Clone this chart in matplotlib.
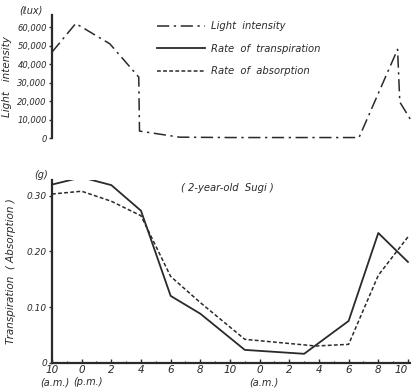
import matplotlib
matplotlib.use("Agg")
import matplotlib.pyplot as plt
from matplotlib.lines import Line2D

# hours after 10 a.m.
light_hours = [0, 1.6, 3.9, 5.85, 5.9, 8.6, 12, 16, 20.7, 23.3, 23.45, 24.2]
light_lux = [46500, 62000, 51000, 33000, 3800, 500, 300, 300, 300, 48000, 19500, 9700]

trans_hours = [0, 2, 4, 6, 8, 10, 13, 17, 20, 22, 24]
transpiration = [0.32, 0.333, 0.319, 0.273, 0.12, 0.088, 0.023, 0.016, 0.075, 0.233, 0.181]

abs_hours = [0, 2, 4, 6, 8, 10, 13, 17.8, 20, 22, 24]
absorption = [0.303, 0.308, 0.29, 0.264, 0.155, 0.108, 0.042, 0.03, 0.033, 0.157, 0.226]

tick_hours = list(range(0, 25, 2))
tick_labels = ["10", "0", "2", "4", "6", "8", "10", "0", "2", "4", "6", "8", "10"]

light_ticks = [0, 10000, 20000, 30000, 40000, 50000, 60000]
light_tick_labels = ["0", "10,000", "20,000", "30,000", "40,000", "50,000", "60,000"]
trans_ticks = [0, 0.10, 0.20, 0.30]
trans_tick_labels = ["0", "0.10", "0.20", "0.30"]

ink = "#2a2a2a"
dashdot = (0, (8, 3, 1.5, 3))
dotted = (0, (2.5, 1.5))

plt.rcParams["font.family"] = "DejaVu Sans"
plt.rcParams["font.style"] = "italic"
plt.rcParams["font.size"] = 7

fig = plt.figure(figsize=(4.11, 3.89), dpi=100)
w = 0.8715
ax1 = fig.add_axes([0.1265, 0.645, w, 0.316])
ax2 = fig.add_axes([0.1265, 0.0676, w, 0.4694])

# top: light intensity
ax1.plot(light_hours, light_lux, color=ink, lw=1.1, linestyle=dashdot, clip_on=False)
ax1.set_xlim(0, 24.15)
ax1.set_ylim(0, 66500)
ax1.set_yticks(light_ticks)
ax1.set_yticklabels(light_tick_labels, color=ink, fontsize=6)
ax1.set_xticks([])
for s in ["top", "right", "bottom"]:
    ax1.spines[s].set_visible(False)
ax1.spines["left"].set_linewidth(1.6)
ax1.spines["left"].set_color(ink)
ax1.tick_params(axis="y", length=2.5, width=1, color=ink, pad=1.2)
ax1.set_ylabel("Light   intensity", color=ink, fontsize=7.5, labelpad=4)
ax1.text(-0.06, 1.0, "(ℓux)", transform=ax1.transAxes, ha="center", va="bottom", color=ink)

handles = [
    Line2D([], [], color=ink, lw=1.1, linestyle=dashdot),
    Line2D([], [], color=ink, lw=1.3, linestyle="-"),
    Line2D([], [], color=ink, lw=1.1, linestyle=dotted),
]
fig.legend(handles, ["Light  intensity", "Rate  of  transpiration", "Rate  of  absorption"],
           loc="upper left", bbox_to_anchor=(0.36, 0.968), frameon=False,
           handlelength=4.8, labelspacing=1.25, handletextpad=0.6, fontsize=7.2,
           labelcolor=ink)

# bottom: transpiration and absorption
ax2.plot(trans_hours, transpiration, color=ink, lw=1.3, linestyle="-")
ax2.plot(abs_hours, absorption, color=ink, lw=1.1, linestyle=dotted)
ax2.set_xlim(0, 24.15)
ax2.set_ylim(0, 0.328)
ax2.set_xticks(tick_hours)
ax2.set_xticklabels(tick_labels, color=ink, fontsize=7.5)
ax2.get_xticklabels()[-1].set_horizontalalignment("right")
ax2.set_xticks(range(0, 25), minor=True)
ax2.set_yticks(trans_ticks)
ax2.set_yticklabels(trans_tick_labels, color=ink, fontsize=6.5)
for s in ["top", "right"]:
    ax2.spines[s].set_visible(False)
for s in ["left", "bottom"]:
    ax2.spines[s].set_linewidth(1.6)
    ax2.spines[s].set_color(ink)
ax2.tick_params(axis="x", which="major", direction="in", length=3, width=1, color=ink, pad=1.5)
ax2.tick_params(axis="x", which="minor", direction="in", length=1.5, width=0.8, color=ink)
ax2.tick_params(axis="y", length=2.5, width=1, color=ink, pad=1.2)
ax2.set_ylabel("Transpiration  ( Absorption )", color=ink, fontsize=7.5, labelpad=8)
ax2.text(-0.03, 1.0, "(g)", transform=ax2.transAxes, ha="center", va="bottom", color=ink)
ax2.text(0.49, 0.955, "( 2-year-old  Sugi )", transform=ax2.transAxes, ha="center",
         va="center", color=ink, fontsize=7.2)

for x, lab in [(0.2, "(a.m.)"), (2.4, "(p.m.)"), (14.3, "(a.m.)")]:
    ax2.text(x, -0.08, lab, transform=ax2.get_xaxis_transform(), ha="center",
             va="top", color=ink, fontsize=7)

fig.savefig("out.png", dpi=100)
